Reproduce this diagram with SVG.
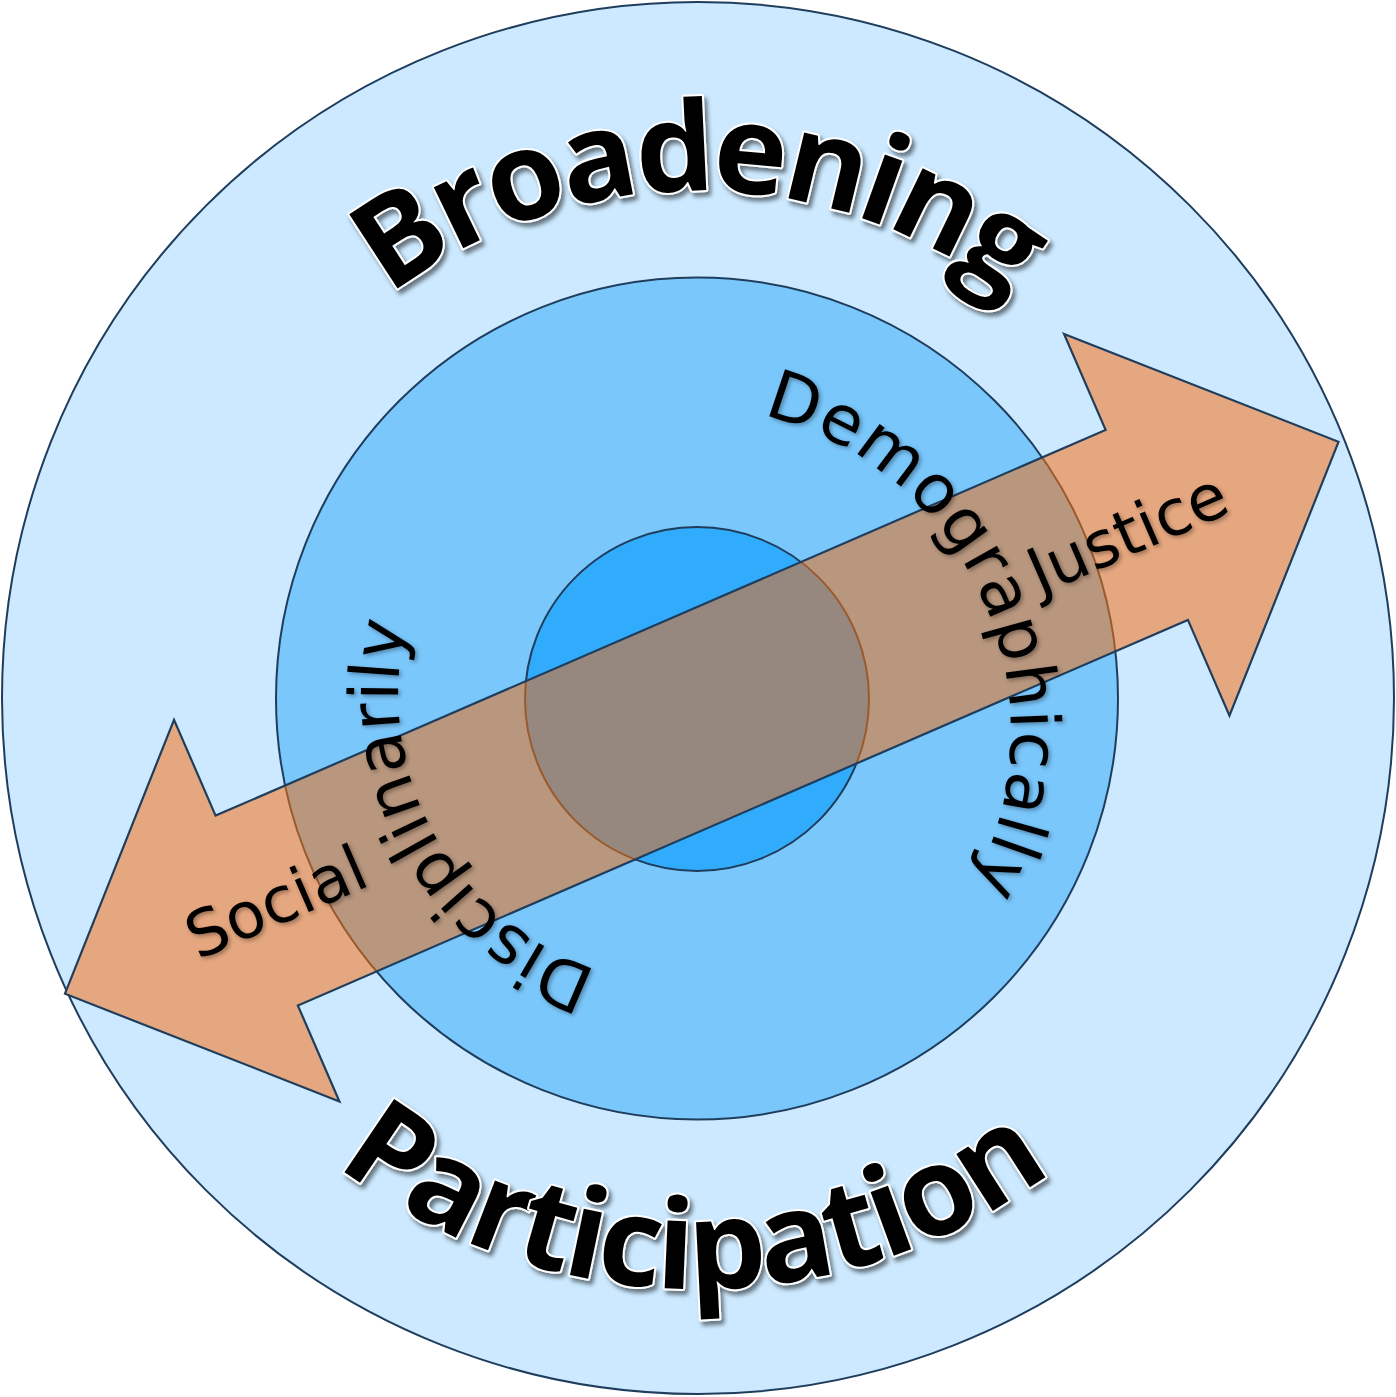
<svg xmlns="http://www.w3.org/2000/svg" xmlns:xlink="http://www.w3.org/1999/xlink" width="1396" height="1397" viewBox="0 0 1396 1397">
  <style>
    .ring { stroke: #1f3d5c; stroke-width: 2; }
    .tint { stroke: #9a5a2c; stroke-width: 2; }
    .title { font-family: "Open Sans", "Noto Sans", sans-serif; font-weight: 700; font-size: 124px; fill: #000; stroke: #fff; stroke-width: 4; paint-order: stroke; stroke-linejoin: round; }
    .label { font-family: "DejaVu Sans", "Liberation Sans", sans-serif; font-size: 64px; fill: #000; }
    .ringlabel { font-size: 68px; }
  </style>
  <defs>
    <filter id="titleShadow" x="-10%" y="-20%" width="120%" height="140%">
      <feDropShadow dx="3" dy="4" stdDeviation="2" flood-color="#000" flood-opacity="0.5"/>
    </filter>
    <filter id="labelShadow" x="-10%" y="-20%" width="120%" height="140%">
      <feDropShadow dx="2" dy="2" stdDeviation="2" flood-color="#000" flood-opacity="0.35"/>
    </filter>
    <!-- double-headed arrow, drawn about its own centre along +x -->
    <polygon id="arrowShape" points="-694,0 -485,-208 -485,-103.5 485,-103.5 485,-208 694,0 485,208 485,103.5 -485,103.5 -485,208"/>
    <clipPath id="arrowClip">
      <use xlink:href="#arrowShape" transform="translate(701.75 717.75) rotate(-23.43)"/>
    </clipPath>
    <!-- arcs the curved words run along -->
    <path id="topArc" d="M 191 698 A 507 507 0 0 1 1205 698"/>
    <path id="bottomArc" d="M 107 698 A 591 591 0 0 0 1289 698"/>
    <path id="rightRing" d="M 400.7 572 A 326 326 0 1 1 965.3 898 A 326 326 0 1 1 400.7 572"/>
    <path id="leftRing" d="M 445.9 535 A 290 290 0 1 1 947.1 825 A 290 290 0 1 1 445.9 535"/>
  </defs>

  <g id="outer-ring">
    <circle class="ring" cx="698" cy="698" r="696" fill="#cce9ff"/>
  </g>
  <g id="middle-ring">
    <circle class="ring" cx="697" cy="698.5" r="421" fill="#7ac7fc"/>
  </g>
  <g id="inner-ring">
    <circle class="ring" cx="697" cy="699" r="172" fill="#31acfc"/>
  </g>

  <g id="connectors">
    <g id="double-arrow">
      <use xlink:href="#arrowShape" transform="translate(701.75 717.75) rotate(-23.43)" fill="#e5a77f"/>
      <g clip-path="url(#arrowClip)">
        <circle class="tint" cx="697" cy="698.5" r="421" fill="#b9977e"/>
        <circle class="tint" cx="697" cy="699" r="172" fill="#96887e"/>
      </g>
      <use xlink:href="#arrowShape" transform="translate(701.75 717.75) rotate(-23.43)" fill="none" stroke="#1f3d5c" stroke-width="2.2" stroke-linejoin="miter"/>
    </g>
  </g>

  <g id="arrow-labels" filter="url(#labelShadow)">
    <g transform="translate(701.75 717.75) rotate(-23.43)">
      <text class="label" x="-464" y="22" text-anchor="middle">Social</text>
      <text class="label" x="464" y="22" text-anchor="middle">Justice</text>
    </g>
  </g>

  <g id="ring-labels" filter="url(#labelShadow)">
    <text class="label ringlabel" letter-spacing="1.2"><textPath xlink:href="#rightRing" startOffset="721" text-anchor="middle">Demographically</textPath></text>
    <text class="label ringlabel"><textPath xlink:href="#leftRing" startOffset="1573" text-anchor="middle">Disciplinarily</textPath></text>
  </g>

  <g id="title-broadening" filter="url(#titleShadow)">
    <text class="title" letter-spacing="-5"><textPath xlink:href="#topArc" startOffset="50%" text-anchor="middle">Broadening</textPath></text>
  </g>
  <g id="title-participation" filter="url(#titleShadow)">
    <text class="title" letter-spacing="-3"><textPath xlink:href="#bottomArc" startOffset="922" text-anchor="middle">Participation</textPath></text>
  </g>
</svg>
